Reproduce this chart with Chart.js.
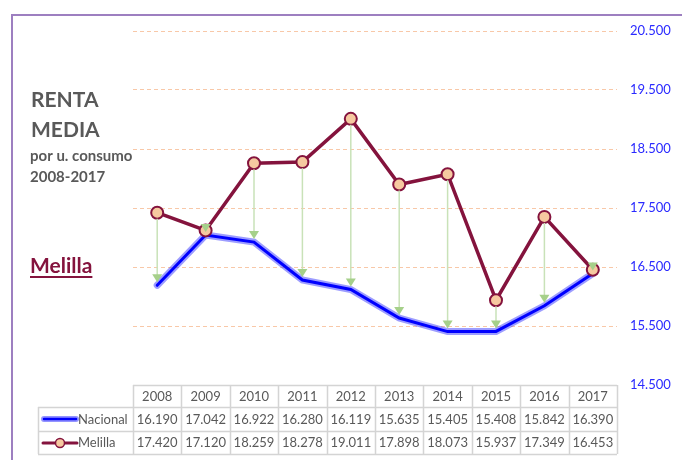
<!DOCTYPE html>
<html>
<head>
<meta charset="utf-8">
<script src="https://cdn.jsdelivr.net/npm/chart.js@4/dist/chart.umd.min.js"></script>
<style>
  body { margin: 0; background: #fff; }
</style>
</head>
<body>
<canvas id="grafico" width="682" height="460"></canvas>
<script>
// Datos
const anios = ["2008", "2009", "2010", "2011", "2012", "2013", "2014", "2015", "2016", "2017"];
const nacional = [16190, 17042, 16922, 16280, 16119, 15635, 15405, 15408, 15842, 16390];
const melilla = [17420, 17120, 18259, 18278, 19011, 17898, 18073, 15937, 17349, 16453];
const ejeMin = 14500;
const ejeMax = 20500;
const ejePaso = 1000;

const gris = "#595959";
const granate = "#84133d";

// formato 16.190
function miles(n) {
  return String(n).replace(/\B(?=(\d{3})+(?!\d))/g, ".");
}

// Fondo, marco y textos
const decoracion = {
  id: "decoracion",
  beforeDraw(chart) {
    const ctx = chart.ctx;
    ctx.save();
    ctx.fillStyle = "#fff";
    ctx.fillRect(0, 0, chart.width, chart.height);
    ctx.strokeStyle = "#9d7fc0";
    ctx.lineWidth = 2;
    ctx.beginPath();
    ctx.moveTo(12, 460);
    ctx.lineTo(12, 15);
    ctx.lineTo(682, 15);
    ctx.stroke();

    ctx.fillStyle = gris;
    ctx.textAlign = "left";
    ctx.textBaseline = "alphabetic";
    ctx.font = "bold 21px Lato";
    ctx.fillText("RENTA", 31, 107);
    ctx.fillText("MEDIA", 31, 137);
    ctx.font = "bold 15px Lato";
    ctx.fillText("por u. consumo", 30, 161);
    ctx.fillText("2008-2017", 30, 182);

    ctx.fillStyle = granate;
    ctx.font = "bold 21px Lato";
    ctx.fillText("Melilla", 30, 273);
    const w = ctx.measureText("Melilla").width;
    ctx.fillRect(30, 276, w, 2);
    ctx.restore();
  },
  afterDatasetsDraw(chart) {
    // flechas de Melilla a Nacional
    const ctx = chart.ctx;
    const x = chart.scales.x;
    const y = chart.scales.y;
    ctx.save();
    for (let i = 0; i < anios.length; i++) {
      const px = x.getPixelForValue(i);
      const y1 = y.getPixelForValue(melilla[i]);
      const y2 = y.getPixelForValue(nacional[i]) - 3;
      if (y2 - y1 > 14) {
        ctx.strokeStyle = "#c9e2b8";
        ctx.lineWidth = 1.5;
        ctx.beginPath();
        ctx.moveTo(px, y1 + 6);
        ctx.lineTo(px, y2 - 7);
        ctx.stroke();
      }
      ctx.fillStyle = "#a6d08a";
      ctx.beginPath();
      ctx.moveTo(px, y2);
      ctx.lineTo(px - 5, y2 - 8);
      ctx.lineTo(px + 5, y2 - 8);
      ctx.closePath();
      ctx.fill();
    }
    ctx.restore();
  },
  afterDraw(chart) {
    // tabla de datos
    const ctx = chart.ctx;
    const x = chart.scales.x;
    const mitad = (x.getPixelForValue(1) - x.getPixelForValue(0)) / 2;
    const izq = x.getPixelForValue(0) - mitad;
    const der = x.getPixelForValue(anios.length - 1) + mitad;
    const filas = [385, 407, 431, 454];
    const etiquetaIzq = 38;

    ctx.save();
    ctx.strokeStyle = "#d4d4d4";
    ctx.lineWidth = 1.5;
    ctx.beginPath();
    ctx.moveTo(izq, filas[0] + 0.5);
    ctx.lineTo(der, filas[0] + 0.5);
    for (let r = 1; r < filas.length; r++) {
      ctx.moveTo(etiquetaIzq, filas[r] + 0.5);
      ctx.lineTo(der, filas[r] + 0.5);
    }
    ctx.moveTo(etiquetaIzq + 0.5, filas[1]);
    ctx.lineTo(etiquetaIzq + 0.5, filas[3]);
    for (let i = 0; i <= anios.length; i++) {
      const cx = Math.round(izq + i * mitad * 2) + 0.5;
      ctx.moveTo(cx, filas[0]);
      ctx.lineTo(cx, filas[3]);
    }
    ctx.stroke();

    ctx.fillStyle = gris;
    ctx.font = "13px Lato";
    ctx.textAlign = "center";
    ctx.textBaseline = "middle";
    for (let i = 0; i < anios.length; i++) {
      const px = x.getPixelForValue(i);
      ctx.fillText(anios[i], px, 397);
      ctx.fillText(miles(nacional[i]), px, 420);
      ctx.fillText(miles(melilla[i]), px, 443);
    }

    // leyenda dentro de la tabla
    ctx.textAlign = "left";
    ctx.fillText("Nacional", 78, 420);
    ctx.fillText("Melilla", 78, 443);
    ctx.lineCap = "round";
    ctx.strokeStyle = "rgba(60, 60, 255, 0.55)";
    ctx.lineWidth = 6;
    ctx.beginPath();
    ctx.moveTo(44, 419);
    ctx.lineTo(76, 419);
    ctx.stroke();
    ctx.strokeStyle = "#0000ff";
    ctx.lineWidth = 2.5;
    ctx.stroke();

    ctx.strokeStyle = granate;
    ctx.lineWidth = 3;
    ctx.beginPath();
    ctx.moveTo(43, 443);
    ctx.lineTo(77, 443);
    ctx.stroke();
    ctx.fillStyle = "#f6c9a0";
    ctx.lineWidth = 1.5;
    ctx.beginPath();
    ctx.arc(60, 443, 4.5, 0, Math.PI * 2);
    ctx.fill();
    ctx.stroke();
    ctx.restore();
  }
};

const ctx = document.getElementById("grafico").getContext("2d");
const grafico = new Chart(ctx, {
  type: "line",
  data: {
    labels: anios,
    datasets: [
      {
        label: "Melilla",
        data: melilla,
        borderColor: granate,
        borderWidth: 3.5,
        pointRadius: 6,
        pointBorderWidth: 2,
        pointBackgroundColor: "#f6c9a0",
        pointBorderColor: granate,
        tension: 0,
      },
      {
        label: "Nacional",
        data: nacional,
        borderColor: "#0000ff",
        borderWidth: 3,
        borderCapStyle: "round",
        pointRadius: 0,
        tension: 0,
      },
      {
        label: "Nacional (brillo)",
        data: nacional,
        borderColor: "rgba(60, 60, 255, 0.5)",
        borderWidth: 7,
        borderCapStyle: "round",
        pointRadius: 0,
        tension: 0,
      },
    ],
  },
  options: {
    responsive: false,
    animation: false,
    layout: {
      padding: { left: 133, top: 31, right: 0, bottom: 75 },
    },
    plugins: {
      legend: { display: false },
      tooltip: { enabled: false },
    },
    scales: {
      x: {
        type: "category",
        offset: true,
        display: false,
      },
      y: {
        position: "right",
        min: ejeMin,
        max: ejeMax,
        afterFit(scale) {
          scale.width = 65;
        },
        ticks: {
          stepSize: ejePaso,
          padding: 13,
          color: "#2a2aff",
          font: { family: "Lato", size: 13 },
          callback: (v) => miles(v),
        },
        grid: {
          color: "#f8c8a8",
          lineWidth: 1,
          drawTicks: false,
        },
        border: {
          display: false,
          dash: [4, 3],
        },
      },
    },
  },
  plugins: [decoracion],
});
</script>
</body>
</html>
